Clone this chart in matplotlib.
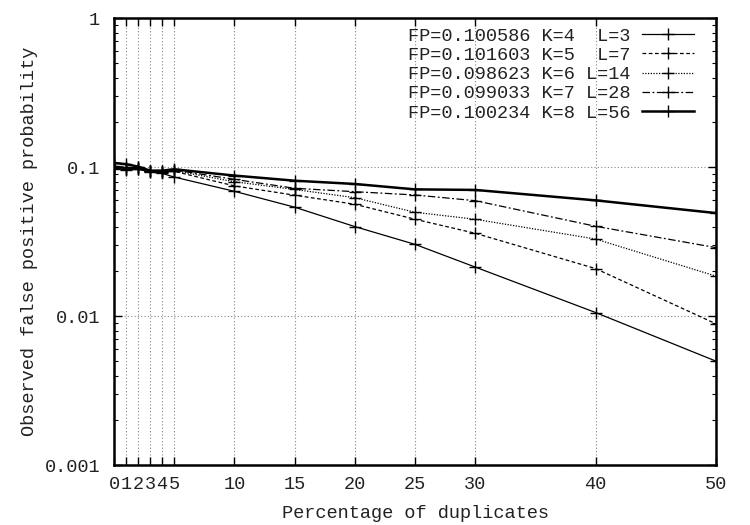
import matplotlib
matplotlib.use("Agg")
import matplotlib.pyplot as plt
from matplotlib.ticker import FixedLocator, FixedFormatter, LogLocator, NullFormatter

plt.rcParams['font.family'] = ['Liberation Mono', 'DejaVu Sans Mono']

x = [0, 1, 2, 3, 4, 5, 10, 15, 20, 25, 30, 40, 50]
k4 = [0.100, 0.098, 0.097, 0.093, 0.091, 0.086, 0.069, 0.054, 0.040, 0.0304, 0.0214, 0.0106, 0.0050]
k5 = [0.102, 0.100, 0.099, 0.095, 0.093, 0.094, 0.075, 0.065, 0.0565, 0.0448, 0.0361, 0.0209, 0.0089]
k6 = [0.098, 0.096, 0.098, 0.094, 0.093, 0.095, 0.080, 0.071, 0.0625, 0.0499, 0.0448, 0.033, 0.0186]
k7 = [0.099, 0.097, 0.100, 0.095, 0.094, 0.096, 0.083, 0.0723, 0.0686, 0.0652, 0.0597, 0.0402, 0.0289]
k8 = [0.107, 0.105, 0.101, 0.095, 0.095, 0.097, 0.088, 0.0813, 0.0773, 0.0711, 0.0705, 0.060, 0.0493]
labels = ["FP=0.100586 K=4  L=3", "FP=0.101603 K=5  L=7", "FP=0.098623 K=6 L=14",
          "FP=0.099033 K=7 L=28", "FP=0.100234 K=8 L=56"]
xticks = [0, 1, 2, 3, 4, 5, 10, 15, 20, 25, 30, 40, 50]
yticks = [0.001, 0.01, 0.1, 1]
ytick_labels = ["0.001", "0.01", "0.1", "1"]

FS = 13.4
TXT = '#222222'
fig = plt.figure(figsize=(7.5, 5.25), dpi=100)
ax = fig.add_axes([114/750, 1-465.3/525, (716-114)/750, (465.3-18.3)/525])

styles = [
    dict(ls='-', lw=0.9),
    dict(ls=(0, (3, 2)), lw=0.9),
    dict(ls=(0, (1, 1.2)), lw=0.9),
    dict(ls=(0, (6, 2, 1.5, 2)), lw=0.9),
    dict(ls='-', lw=1.8),
]
for ys, lab, st in zip([k4, k5, k6, k7, k8], labels, styles):
    ax.plot(x, ys, color='black', marker='+', markersize=8, markeredgewidth=1.0,
            label=lab, **st)

ax.set_yscale('log')
ax.set_xlim(0, 50)
ax.set_ylim(0.001, 1)
ax.xaxis.set_major_locator(FixedLocator(xticks))
ax.set_xticklabels([str(v) for v in xticks])
ax.yaxis.set_major_locator(FixedLocator(yticks))
ax.yaxis.set_major_formatter(FixedFormatter(ytick_labels))
ax.yaxis.set_minor_locator(LogLocator(base=10, subs=range(2, 10)))
ax.yaxis.set_minor_formatter(NullFormatter())

ax.tick_params(axis='both', which='major', direction='in', length=6, width=1,
               top=True, right=True, labelsize=FS, colors='black', labelcolor=TXT)
ax.tick_params(axis='y', which='minor', direction='in', length=3, width=0.8,
               left=True, right=True)
ax.tick_params(axis='x', pad=8)
ax.tick_params(axis='y', pad=10)

ax.grid(True, which='major', color='#888888', ls=(0, (1, 2)), lw=0.8)
for s in ax.spines.values():
    s.set_linewidth(1.8)

ax.set_xlabel("Percentage of duplicates", fontsize=FS, labelpad=8, color=TXT)
ax.set_ylabel("Observed false positive probability", fontsize=FS, labelpad=5, color=TXT)

leg = ax.legend(loc='upper right', bbox_to_anchor=((694-114)/602, (465.3-27.5)/447),
                frameon=False, markerfirst=False, fontsize=FS, handlelength=2.8,
                handletextpad=0.6, borderpad=0, borderaxespad=0, labelspacing=0.12,
                labelcolor=TXT)

fig.savefig("out.png", dpi=100)
